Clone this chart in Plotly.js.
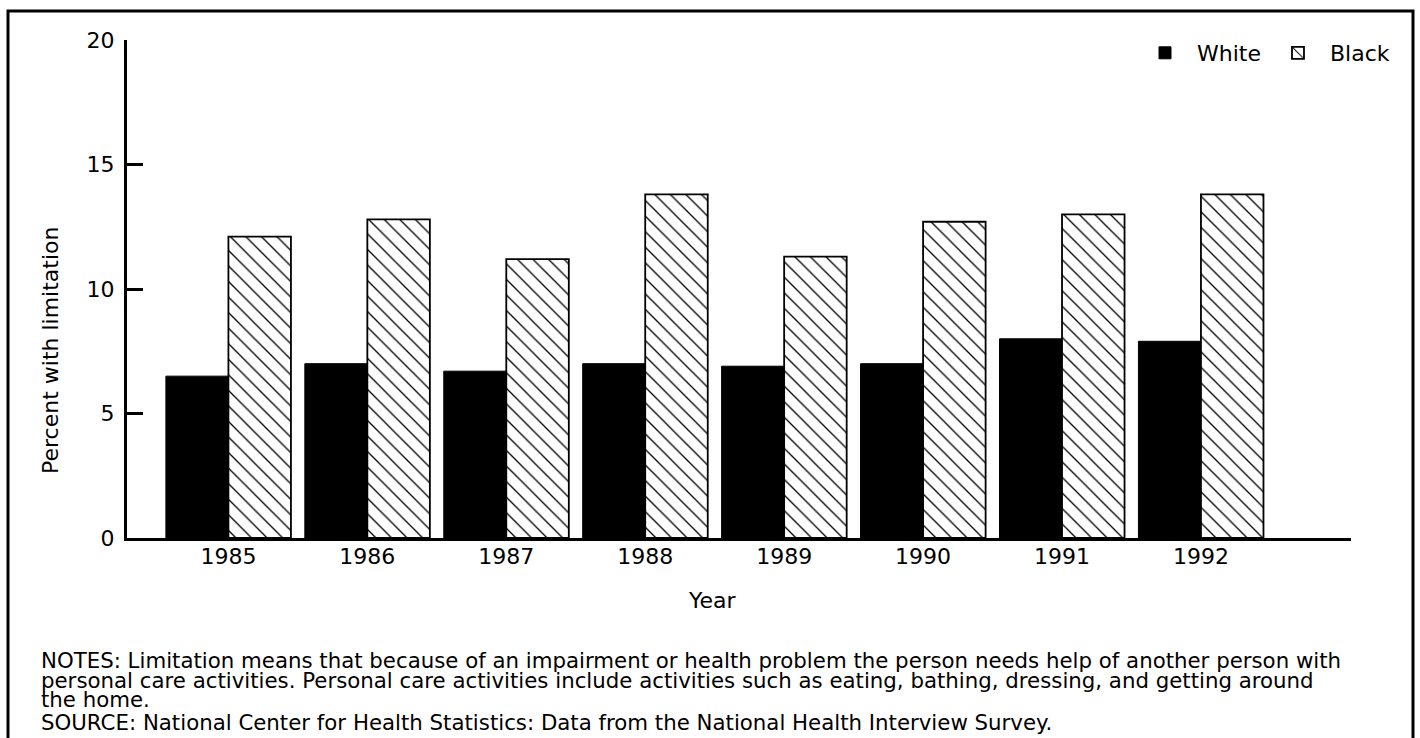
<!DOCTYPE html>
<html><head><meta charset="utf-8">
<script src="https://cdn.plot.ly/plotly-3.0.1.min.js"></script>
<style>html,body{margin:0;padding:0;background:#fff;} #chart{width:1420px;height:738px;}</style>
</head><body><div id="chart"></div>
<script>
// ---- data ----
const years = ['1985','1986','1987','1988','1989','1990','1991','1992'];
const whiteValues = [6.5, 7.0, 6.7, 7.0, 6.9, 7.0, 8.0, 7.9];
const blackValues = [12.1, 12.8, 11.2, 13.8, 11.3, 12.7, 13.0, 13.8];
const seriesNames = ['White', 'Black'];
const yTickValues = [0, 5, 10, 15, 20];
const xTitleText = 'Year';
const yTitleText = 'Percent with limitation';
const noteLines = [
  'NOTES: Limitation means that because of an impairment or health problem the person needs help of another person with',
  'personal care activities. Personal care activities include activities such as eating, bathing, dressing, and getting around',
  'the home.',
  'SOURCE: National Center for Health Statistics: Data from the National Health Interview Survey.'
];

// ---- layout helpers (pixel -> paper) ----
const W = 1420, H = 738;
const M = {l: 127, r: 69, t: 40, b: 200};
const PW = W - M.l - M.r, PH = H - M.t - M.b;
const px = x => (x - M.l) / PW;
const py = y => (H - M.b - y) / PH;
const FONT = '"DejaVu Sans", "Liberation Sans", Arial, sans-serif';

const traces = [
  {
    type: 'bar', name: seriesNames[0], x: years, y: whiteValues,
    marker: {color: '#000', line: {color: '#000', width: 1}},
    hoverinfo: 'x+y+name'
  },
  {
    type: 'bar', name: seriesNames[1], x: years, y: blackValues,
    marker: {
      color: '#fff',
      line: {color: '#000', width: 1.8},
      pattern: {shape: '\\', fgcolor: '#000', bgcolor: '#fff', size: 11, solidity: 0.12, fillmode: 'replace'}
    },
    hoverinfo: 'x+y+name'
  }
];

const noteY = [660, 680, 699, 722];
const annotations = [
  {text: yTitleText, textangle: -90, xref: 'paper', yref: 'paper', x: px(50), y: py(351),
   xanchor: 'center', yanchor: 'middle', showarrow: false, font: {size: 22, color: '#000', family: FONT}},
  {text: xTitleText, xref: 'paper', yref: 'paper', x: px(712), y: py(600),
   xanchor: 'center', yanchor: 'middle', showarrow: false, font: {size: 22, color: '#000', family: FONT}}
].concat(noteLines.map((t, i) => ({
  text: t, xref: 'paper', yref: 'paper', x: px(39), y: py(noteY[i]),
  xanchor: 'left', yanchor: 'middle', showarrow: false, font: {size: 21.3, color: '#000', family: FONT}
})));

const layout = {
  width: W, height: H,
  margin: M,
  paper_bgcolor: '#fff', plot_bgcolor: '#fff',
  font: {family: FONT, color: '#000', size: 22},
  barmode: 'group', bargap: 0.1, bargroupgap: 0,
  xaxis: {
    type: 'category', range: [-0.73, 8.08],
    showline: true, linecolor: '#000', linewidth: 3,
    showgrid: false, zeroline: false, ticks: '',
    tickfont: {size: 22, color: '#000'}, ticklabelstandoff: -3,
    fixedrange: true
  },
  yaxis: {
    range: [0, 20], tickmode: 'array', tickvals: yTickValues,
    showline: true, linecolor: '#000', linewidth: 3,
    showgrid: false, zeroline: false,
    ticks: 'inside', ticklen: 16, tickwidth: 3, tickcolor: '#000',
    tickfont: {size: 22, color: '#000'}, ticklabelstandoff: 5,
    fixedrange: true
  },
  showlegend: true,
  legend: {
    orientation: 'h', x: px(1395), xanchor: 'right', y: py(53), yanchor: 'middle',
    font: {size: 22, color: '#000', family: FONT}, bgcolor: 'rgba(0,0,0,0)',
    itemwidth: 54, traceorder: 'normal'
  },
  shapes: [
    {type: 'rect', xref: 'paper', yref: 'paper', x0: px(8), x1: px(1413), y0: py(790), y1: py(11),
     line: {color: '#000', width: 3}, fillcolor: 'rgba(0,0,0,0)', layer: 'above'}
  ],
  annotations: annotations
};

Plotly.newPlot('chart', traces, layout, {displayModeBar: false});
</script>
</body></html>
